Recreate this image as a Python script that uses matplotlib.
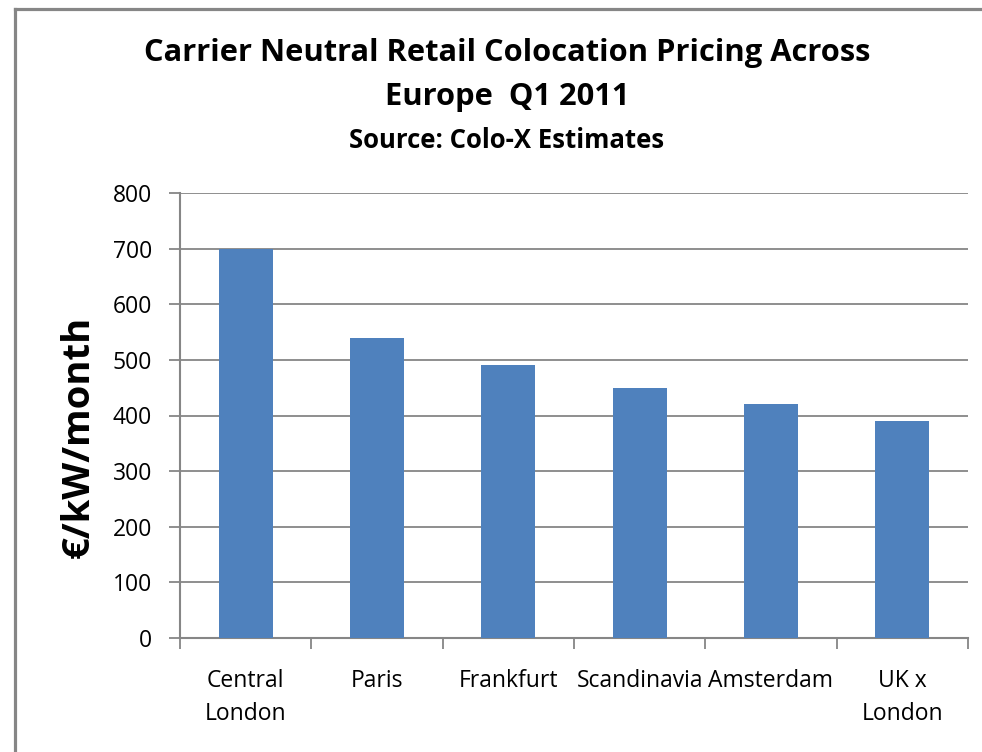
import matplotlib
matplotlib.use("Agg")
import matplotlib.pyplot as plt
from matplotlib.lines import Line2D
import numpy as np

categories = ["Central\nLondon", "Paris", "Frankfurt", "Scandinavia", "Amsterdam", "UK x\nLondon"]
values = [700, 540, 490, 450, 420, 390]
yticks = [0, 100, 200, 300, 400, 500, 600, 700, 800]

plt.rcParams['font.family'] = ['Open Sans', 'DejaVu Sans']

fig = plt.figure(figsize=(9.82, 7.52), dpi=100)
W, H = 982, 752
ax = fig.add_axes([180 / W, 1 - 638 / H, (968 - 180) / W, (638 - 193) / H])

x = np.arange(len(categories))
ax.bar(x, values, width=0.41, color="#4F81BD", zorder=3)

grid_c = "#868686"
ax.set_ylim(0, 800)
ax.set_yticks(yticks)
ax.set_yticklabels([str(t) for t in yticks], fontsize=16.5)
ax.yaxis.grid(True, color=grid_c, linewidth=1.3, zorder=0)
ax.set_xlim(-0.5, len(categories) - 0.5)
ax.set_xticks(np.arange(-0.5, len(categories)), labels=[""] * (len(categories) + 1))
ax.set_xticks(x, minor=True)
ax.set_xticklabels(categories, minor=True, fontsize=16.5, linespacing=1.5)
ax.tick_params(axis='x', which='minor', length=0, pad=22)
ax.tick_params(axis='x', which='major', length=8, width=1.3, color=grid_c)
ax.tick_params(axis='y', length=8, width=1.3, color=grid_c, pad=12)
for s in ["top", "right"]:
    ax.spines[s].set_visible(False)
for s in ["left", "bottom"]:
    ax.spines[s].set_color(grid_c)
    ax.spines[s].set_linewidth(1.5)

fig.text(79 / W, 1 - 437 / H, "€/kW/month", rotation=90, ha="center", va="center",
         fontsize=27.5, fontweight="bold")

fig.text(507 / W, 1 - 53 / H, "Carrier Neutral Retail Colocation Pricing Across",
         ha="center", va="center", fontsize=22.2, fontweight="bold")
fig.text(507 / W, 1 - 97 / H, "Europe  Q1 2011",
         ha="center", va="center", fontsize=22.2, fontweight="bold")
fig.text(507 / W, 1 - 140 / H, "Source: Colo-X Estimates",
         ha="center", va="center", fontsize=18.5, fontweight="bold")

# chart area frame (top and left edges visible)
fig.add_artist(Line2D([15 / W, 1], [1 - 9 / H, 1 - 9 / H], transform=fig.transFigure,
                      color=grid_c, linewidth=2.3))
fig.add_artist(Line2D([15 / W, 15 / W], [0, 1 - 9 / H], transform=fig.transFigure,
                      color=grid_c, linewidth=2.3))

fig.savefig("out.png", dpi=100)
